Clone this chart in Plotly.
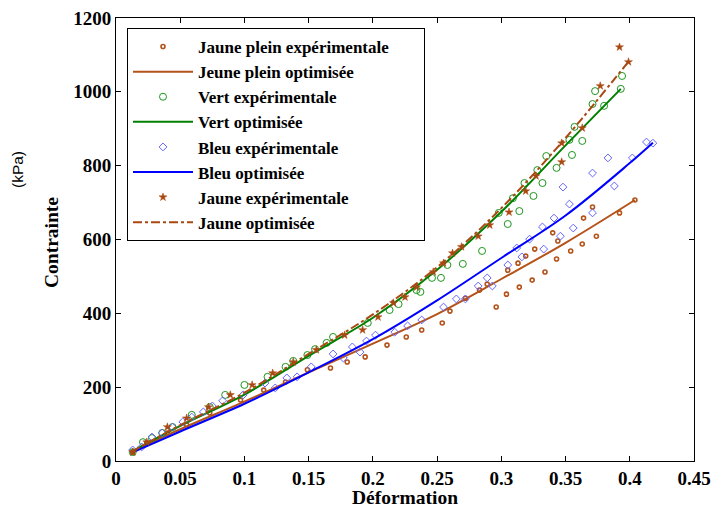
import plotly.graph_objects as go

# ---------------- data ----------------
jp_exp_x = [0.013, 0.024, 0.040, 0.055, 0.073, 0.097, 0.115, 0.132, 0.149, 0.167, 0.180, 0.194,
            0.211, 0.226, 0.238, 0.254, 0.260, 0.272, 0.283, 0.289, 0.296, 0.304, 0.305, 0.313,
            0.314, 0.319, 0.324, 0.326, 0.334, 0.340, 0.343, 0.344, 0.354, 0.363, 0.364, 0.371,
            0.374, 0.392, 0.404]
jp_exp_y = [24, 49, 76, 98, 130, 165, 192, 214, 247, 252, 268, 282,
            314, 336, 355, 374, 406, 441, 463, 479, 417, 452, 517, 536,
            471, 555, 490, 574, 512, 618, 547, 596, 569, 588, 658, 688,
            609, 672, 707]

jp_fit_x = [0.012, 0.05, 0.1, 0.15, 0.2, 0.25, 0.3, 0.35, 0.404]
jp_fit_y = [25, 86, 161, 240, 318, 398, 493, 591, 707]

v_exp_x = [0.013, 0.021, 0.028, 0.036, 0.044, 0.059, 0.073, 0.085, 0.100, 0.118, 0.132, 0.138,
           0.149, 0.155, 0.164, 0.169, 0.196, 0.213, 0.220, 0.234, 0.237, 0.246, 0.253, 0.258,
           0.270, 0.285, 0.298, 0.305, 0.309, 0.314, 0.318, 0.325, 0.328, 0.332, 0.335, 0.343,
           0.353, 0.355, 0.357, 0.363, 0.371, 0.373, 0.380, 0.393, 0.394]
v_exp_y = [24, 51, 62, 76, 92, 125, 146, 179, 206, 228, 255, 271,
           287, 303, 320, 336, 374, 409, 425, 463, 458, 496, 496, 531,
           534, 569, 672, 642, 712, 677, 753, 718, 788, 753, 826, 794,
           870, 829, 905, 867, 967, 1002, 962, 1008, 1043]

v_fit_x = [0.012, 0.05, 0.1, 0.15, 0.2, 0.25, 0.3, 0.35, 0.393]
v_fit_y = [25, 95, 180, 285, 388, 518, 675, 855, 1008]

b_exp_x = [0.013, 0.020, 0.028, 0.036, 0.044, 0.052, 0.059, 0.068, 0.075, 0.083, 0.099, 0.116,
           0.124, 0.133, 0.141, 0.152, 0.169, 0.177, 0.184, 0.190, 0.195, 0.202, 0.217, 0.227,
           0.238, 0.255, 0.265, 0.272, 0.282, 0.289, 0.293, 0.305, 0.312, 0.316, 0.322, 0.332,
           0.333, 0.341, 0.346, 0.348, 0.353, 0.356, 0.371, 0.371, 0.383, 0.388, 0.402, 0.413,
           0.418]
b_exp_y = [30, 38, 65, 76, 92, 106, 119, 133, 149, 163, 179, 211,
           198, 225, 228, 255, 290, 279, 309, 295, 325, 341, 349, 366,
           382, 417, 439, 439, 474, 496, 474, 531, 577, 553, 601, 634,
           574, 658, 609, 742, 696, 631, 672, 780, 821, 745, 821, 864,
           861]

b_fit_x = [0.012, 0.05, 0.1, 0.15, 0.2, 0.25, 0.3, 0.35, 0.4, 0.418]
b_fit_y = [22, 80, 155, 240, 330, 435, 550, 665, 807, 862]

j_exp_x = [0.013, 0.024, 0.040, 0.055, 0.072, 0.089, 0.106, 0.122, 0.138, 0.156, 0.178, 0.192,
           0.204, 0.216, 0.225, 0.234, 0.247, 0.255, 0.262, 0.269, 0.282, 0.291, 0.306, 0.319,
           0.327, 0.347, 0.347, 0.363, 0.377, 0.392, 0.399]
j_exp_y = [24, 51, 92, 116, 146, 179, 206, 238, 268, 301, 341, 355,
           390, 428, 444, 471, 512, 536, 563, 580, 609, 639, 674, 731,
           772, 810, 861, 902, 1016, 1121, 1081]

j_fit_x = [0.012, 0.05, 0.1, 0.15, 0.2, 0.25, 0.3, 0.35, 0.399]
j_fit_y = [25, 97, 185, 290, 397, 525, 685, 875, 1082]

names = ["Jaune plein expérimentale", "Jeune plein optimisée",
         "Vert expérimentale", "Vert optimisée",
         "Bleu expérimentale", "Bleu optimisée",
         "Jaune expérimentale", "Jaune optimisée"]

x_ticks = [0, 0.05, 0.1, 0.15, 0.2, 0.25, 0.3, 0.35, 0.4, 0.45]
x_tick_text = ["0", "0.05", "0.1", "0.15", "0.2", "0.25", "0.3", "0.35", "0.4", "0.45"]
y_ticks = [0, 200, 400, 600, 800, 1000, 1200]
y_tick_text = ["0", "200", "400", "600", "800", "1000", "1200"]

# ---------------- styles ----------------
BROWN = "rgb(181,82,24)"
BROWN2 = "rgb(170,72,18)"
GREEN = "rgb(0,128,0)"
GREEN_M = "rgb(30,150,30)"
BLUE = "rgb(0,0,255)"
BLUE_M = "rgb(100,100,255)"
SERIF = "Liberation Serif"

ML, MR, MT, MB = 116, 20, 18, 47
W, H = 714, 508

fig = go.Figure()
fig.add_trace(go.Scatter(x=jp_exp_x, y=jp_exp_y, mode="markers", name=names[0], legendgroup="a",
                         marker=dict(symbol="circle-open", size=4, color=BROWN, line=dict(width=1.6))))
fig.add_trace(go.Scatter(x=jp_fit_x, y=jp_fit_y, mode="lines", name=names[1], legendgroup="b",
                         line=dict(color=BROWN, width=2, shape="spline")))
fig.add_trace(go.Scatter(x=v_exp_x, y=v_exp_y, mode="markers", name=names[2], legendgroup="c",
                         marker=dict(symbol="circle-open", size=7, color=GREEN_M, line=dict(width=1))))
fig.add_trace(go.Scatter(x=v_fit_x, y=v_fit_y, mode="lines", name=names[3], legendgroup="d",
                         line=dict(color=GREEN, width=2, shape="spline")))
fig.add_trace(go.Scatter(x=b_exp_x, y=b_exp_y, mode="markers", name=names[4], legendgroup="e",
                         marker=dict(symbol="diamond-open", size=6, color=BLUE_M, line=dict(width=1))))
fig.add_trace(go.Scatter(x=b_fit_x, y=b_fit_y, mode="lines", name=names[5], legendgroup="f",
                         line=dict(color=BLUE, width=2, shape="spline")))
fig.add_trace(go.Scatter(x=j_exp_x, y=j_exp_y, mode="markers", name=names[6], legendgroup="g",
                         marker=dict(symbol="star", size=6, color=BROWN2, line=dict(width=0.5, color=BROWN2))))
fig.add_trace(go.Scatter(x=j_fit_x, y=j_fit_y, mode="lines", name=names[7], legendgroup="h",
                         line=dict(color=BROWN2, width=2, dash="dashdot", shape="spline")))

for i, t in enumerate(fig.data):
    t.name = "<b>" + t.name + "</b>" + ("\u00a0" * 7 if i == 0 else "")

axis_common = dict(showline=True, linecolor="black", linewidth=1, mirror="ticks",
                   ticks="inside", ticklen=5, tickcolor="black", showgrid=False, zeroline=False,
                   automargin=False,
                   tickfont=dict(family=SERIF, size=19, color="black"))

fig.update_xaxes(range=[0, 0.45], tickvals=x_ticks, ticktext=["<b>" + s + "</b>" for s in x_tick_text],
                 title=dict(text="<b>Déformation</b>", font=dict(family=SERIF, size=19.5, color="black"),
                            standoff=0),
                 **axis_common)
fig.update_yaxes(range=[0, 1200], tickvals=y_ticks, ticktext=["<b>" + s + "</b>" for s in y_tick_text],
                 **axis_common)

pw, ph = W - ML - MR, H - MT - MB


def px2paper(px, py):
    return (px - ML) / pw, (H - MB - py) / ph


cx, cy = px2paper(51, 243)
kx, ky = px2paper(17, 170)

fig.update_layout(
    width=W, height=H,
    margin=dict(l=ML, r=MR, t=MT, b=MB, autoexpand=False),
    paper_bgcolor="white", plot_bgcolor="white",
    font=dict(family=SERIF, color="black"),
    legend=dict(x=(127 - ML) / pw, y=(H - MB - 28) / ph, xanchor="left", yanchor="top",
                bordercolor="black", borderwidth=1, bgcolor="white",
                font=dict(family=SERIF, size=17, color="black"),
                itemwidth=60, tracegroupgap=0),
    annotations=[
        dict(text="<b>Contrainte</b>", x=cx, y=cy, xref="paper", yref="paper", showarrow=False,
             xanchor="center", yanchor="middle",
             textangle=-90, font=dict(family=SERIF, size=19.5, color="black")),
        dict(text="(kPa)", x=kx, y=ky, xref="paper", yref="paper", showarrow=False,
             xanchor="center", yanchor="middle",
             textangle=-90, font=dict(family="Liberation Sans", size=15.5, color="black")),
    ],
)

fig.write_html("out.html", config={"displayModeBar": False},
               post_script="document.body.style.margin='0';document.body.style.overflow='hidden';")
